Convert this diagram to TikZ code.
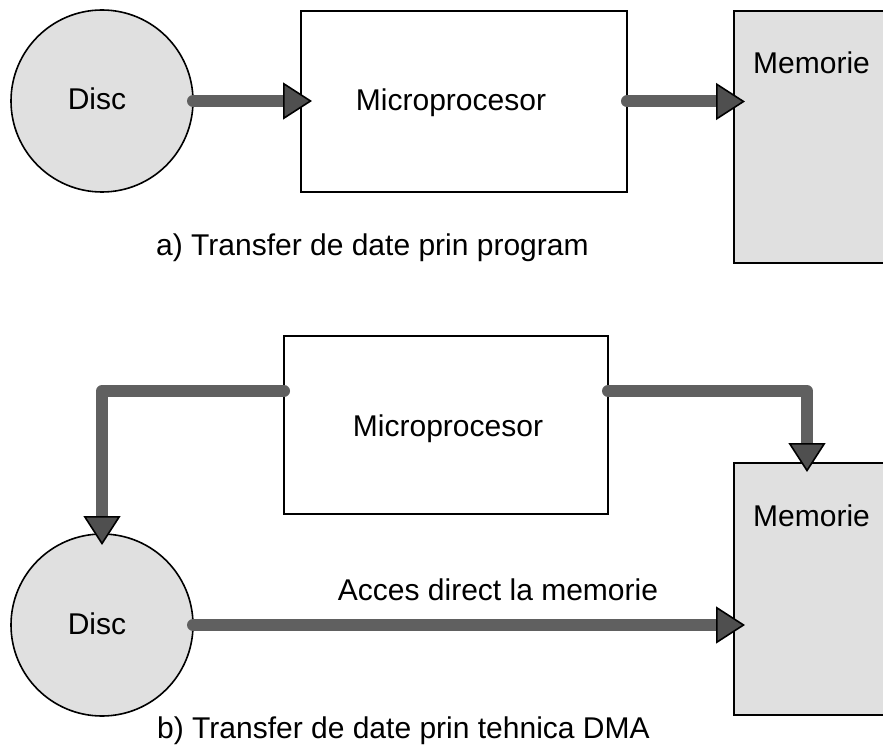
\documentclass[tikz,border=0pt]{standalone}
\usepackage{fontspec}
\setmainfont{Liberation Sans}
\usetikzlibrary{arrows.meta}
\definecolor{shade}{HTML}{E0E0E0}
\definecolor{wire}{HTML}{606060}
\definecolor{headfill}{HTML}{4F4F4F}
\tikzset{
  unit/.style={draw=black, line width=1.6pt, inner sep=0pt, outer sep=0pt},
  disc/.style={unit, circle, fill=shade, minimum size=182pt},
  cpu/.style={unit, rectangle, fill=white, anchor=north west},
  mem/.style={unit, rectangle, fill=shade, anchor=north west, minimum width=180pt, minimum height=252pt},
  lbl/.style={inner sep=0pt, font=\fontsize{30}{36}\selectfont},
  conn/.style={draw=wire, line width=12pt, line cap=round, line join=round,
    -{Triangle[length=29pt 0 0, width=37pt 0 0, line width=1.6pt 0 0, color=black, fill=headfill]}}
}
\begin{document}
\begin{tikzpicture}[x=1pt, y=-1pt]
\clip (0,0) rectangle (883,746);
\fill[white] (0,0) rectangle (883,746);

% part a: transfer through the processor
\node[disc] (da) at (102,101) {};
\node[cpu, minimum width=326pt, minimum height=181pt] (ma) at (301,11) {};
\node[mem] (mema) at (734,11) {};
\node[lbl, anchor=base] (tda) at (97,110) {Disc};
\node[lbl, anchor=base] (tma) at (451,111) {Microprocesor};
\node[lbl, anchor=base west] (tmema) at (753,74) {Memorie};
\node[lbl, anchor=base west] (capa) at (156,255) {a) Transfer de date prin program};

\draw[conn] (da.east) -- ([xshift=11pt]ma.west |- da.east);
\draw[conn] (ma.east) -- ([xshift=11pt]mema.west |- ma.east);

% part b: direct memory access
\node[disc] (db) at (102,625) {};
\node[cpu, minimum width=324pt, minimum height=178pt] (mb) at (284,336) {};
\node[mem] (memb) at (734,463) {};
\node[lbl, anchor=base] (tdb) at (97,634) {Disc};
\node[lbl, anchor=base] (tmb) at (448,436) {Microprocesor};
\node[lbl, anchor=base west] (tmemb) at (753,526) {Memorie};
\node[lbl, anchor=base] (tdma) at (498,600) {Acces direct la memorie};
\node[lbl, anchor=base west] (capb) at (157,738) {b) Transfer de date prin tehnica DMA};

% ports on the processor sides, above its middle
\coordinate (pl) at ([yshift=34pt]mb.west);
\coordinate (pr) at ([yshift=34pt]mb.east);
\coordinate (turn) at (807,0);
\draw[conn] (pl) -- (pl -| db.north) -- ([yshift=-11pt]db.north);
\draw[conn] (pr) -- (pr -| turn) -- ([yshift=-9pt]turn |- memb.north);
\draw[conn] (db.east) -- ([xshift=11pt]memb.west |- db.east);
\end{tikzpicture}
\end{document}
